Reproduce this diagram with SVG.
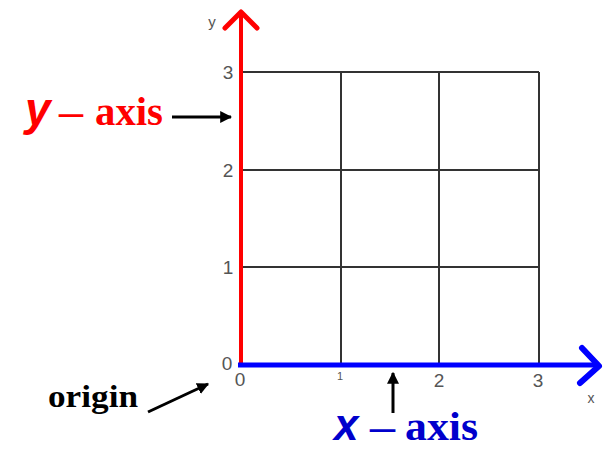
<svg xmlns="http://www.w3.org/2000/svg" width="606" height="449" viewBox="0 0 606 449">
<style>
.grid{stroke:#333;stroke-width:2;fill:none}
.tick{font-family:"Liberation Sans",Arial,sans-serif;fill:#555}
.lbl{font-family:"Liberation Serif","Times New Roman",serif;font-weight:bold}
.var{font-family:"Liberation Sans",Arial,sans-serif;font-weight:bold;font-style:italic}
.ptr{stroke:#000;stroke-width:3;fill:none}
</style>
<defs>
<marker id="ah" viewBox="0 0 10 10" refX="9" refY="5" markerWidth="4" markerHeight="4" orient="auto" markerUnits="strokeWidth">
<path d="M0,0 L10,5 L0,10 z" fill="#000"/>
</marker>
</defs>
<g id="grid">
<path class="grid" d="M241,72H539M241,170H539M241,267H539M341,72V364M439,72V364M539,72V364"/>
</g>
<g id="y-axis">
<path d="M241,366V13" stroke="#ff0000" stroke-width="4" fill="none"/>
<path d="M225,28L241,12L257,28" stroke="#ff0000" stroke-width="5" fill="none" stroke-linecap="round" stroke-linejoin="round"/>
</g>
<g id="x-axis">
<path d="M238,365H598" stroke="#0000ff" stroke-width="5" fill="none"/>
<path d="M582,348L599,366L580,383" stroke="#0000ff" stroke-width="6" fill="none" stroke-linecap="round" stroke-linejoin="round"/>
</g>
<g id="ticks" class="tick">
<text x="212" y="27" font-size="15" text-anchor="middle">y</text>
<text x="228" y="79" font-size="19" text-anchor="middle">3</text>
<text x="228" y="177" font-size="19" text-anchor="middle">2</text>
<text x="228" y="274" font-size="19" text-anchor="middle">1</text>
<text x="227" y="370" font-size="19" text-anchor="middle">0</text>
<text x="240" y="386" font-size="19" text-anchor="middle">0</text>
<text x="340" y="380" font-size="11" text-anchor="middle">1</text>
<text x="439" y="387" font-size="19" text-anchor="middle">2</text>
<text x="538" y="387" font-size="19" text-anchor="middle">3</text>
<text x="591" y="403" font-size="14" text-anchor="middle">x</text>
</g>
<g id="y-label">
<text y="125" fill="#ff0000"><tspan class="var" x="25" font-size="46">y</tspan><tspan class="lbl" x="59" font-size="40" textLength="24" lengthAdjust="spacingAndGlyphs">–</tspan><tspan class="lbl" x="95" font-size="40" textLength="68" lengthAdjust="spacingAndGlyphs">axis</tspan></text>
</g>
<g id="x-label">
<text y="440" fill="#0000cc"><tspan class="var" x="334" font-size="44">x</tspan><tspan class="lbl" x="370" font-size="40" textLength="25" lengthAdjust="spacingAndGlyphs">–</tspan><tspan class="lbl" x="405" font-size="40" textLength="73" lengthAdjust="spacingAndGlyphs">axis</tspan></text>
</g>
<g id="origin-label">
<text class="lbl" x="48" y="407" font-size="32" fill="#000" textLength="90" lengthAdjust="spacingAndGlyphs">origin</text>
</g>
<g id="connectors">
<path class="ptr" d="M172,117H231" marker-end="url(#ah)"/>
<path class="ptr" d="M393,413V373" marker-end="url(#ah)"/>
<path class="ptr" d="M148,412L208,384" marker-end="url(#ah)"/>
</g>
</svg>
